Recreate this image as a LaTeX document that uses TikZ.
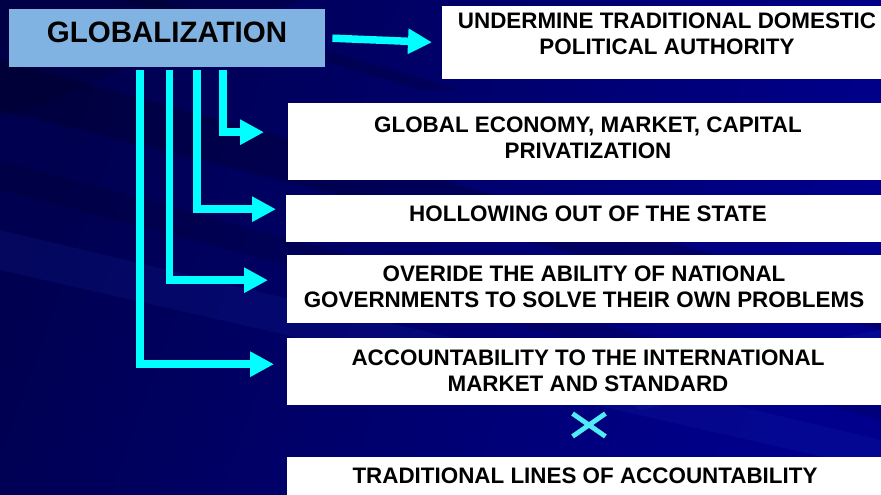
\documentclass[tikz,border=0pt]{standalone}
\usepackage{fontspec}
\setmainfont{Liberation Sans}
\usetikzlibrary{arrows.meta,shapes.misc,calc}
\definecolor{bgnavy}{RGB}{0,0,118}
\definecolor{bgdark}{RGB}{0,0,80}
\definecolor{bglight}{RGB}{0,0,140}
\definecolor{globblue}{RGB}{128,178,226}
\definecolor{arrowcyan}{RGB}{0,255,255}
\definecolor{crosscyan}{RGB}{80,235,245}
\definecolor{streak}{RGB}{40,60,190}
\begin{document}
\begin{tikzpicture}[x=1pt,y=-1pt,
  whitebox/.style={fill=white, draw=none, rectangle, inner sep=0pt, anchor=north west},
  txt/.style={font=\bfseries\fontsize{22.4}{26}\selectfont, align=center, inner sep=0pt, text=black},
  flow/.style={draw=arrowcyan, line width=7.5pt, -{Triangle[length=24pt,width=24pt]}, line join=miter}
]
\useasboundingbox (0,0) rectangle (881,495);
\clip (0,0) rectangle (881,495);
% background
\shade[left color=bgdark, right color=bglight, shading angle=70] (0,0) rectangle (881,495);
\fill[black, opacity=0.18] (0,60) -- (881,300) -- (881,330) -- (0,110) -- cycle;
\fill[black, opacity=0.12] (0,160) -- (881,400) -- (881,420) -- (0,190) -- cycle;
\fill[streak, opacity=0.12] (0,230) -- (881,440) -- (881,470) -- (0,270) -- cycle;
\fill[black, opacity=0.15] (120,0) -- (160,0) -- (460,90) -- (420,90) -- cycle;
\fill[streak, opacity=0.15] (600,380) -- (881,330) -- (881,360) -- (640,410) -- cycle;
\fill[black, opacity=0.12] (0,0) -- (300,0) -- (0,120) -- cycle;

% boxes
\node[whitebox, fill=globblue, minimum width=316pt, minimum height=58pt] (glob) at (9,9) {};
\node[font=\bfseries\fontsize{29.5}{33}\selectfont, inner sep=0pt] (tglob) at (167,32.5) {GLOBALIZATION};

\node[whitebox, minimum width=452pt, minimum height=73pt] (b1) at (442,6) {};
\node[txt] (t1) at (667,34) {UNDERMINE TRADITIONAL DOMESTIC\\POLITICAL AUTHORITY};

\node[whitebox, minimum width=600pt, minimum height=77pt] (b2) at (288,103) {};
\node[txt] (t2) at (588,138) {GLOBAL ECONOMY, MARKET, CAPITAL\\PRIVATIZATION};

\node[whitebox, minimum width=602pt, minimum height=47pt] (b3) at (286,195) {};
\node[txt] (t3) at (588,214) {HOLLOWING OUT OF THE STATE};

\node[whitebox, minimum width=601pt, minimum height=68pt] (b4) at (287,255) {};
\node[txt] (t4) at (584,286.5) {OVERIDE THE ABILITY OF NATIONAL\\GOVERNMENTS TO SOLVE THEIR OWN PROBLEMS};

\node[whitebox, minimum width=601pt, minimum height=67pt] (b5) at (287,338) {};
\node[txt] (t5) at (588,370.5) {ACCOUNTABILITY TO THE INTERNATIONAL\\MARKET AND STANDARD};

\node[whitebox, minimum width=601pt, minimum height=50pt] (b6) at (287,457) {};
\node[txt] (t6) at (585,476) {TRADITIONAL LINES OF ACCOUNTABILITY};

\node[cross out, draw=crosscyan, line width=4.8pt, minimum width=28pt, minimum height=18pt, inner sep=0pt] (cross) at (589,425) {};

% connectors
\coordinate (s0) at ($(glob.east)+(7,0)$);
\draw[flow, shorten >=10pt] (s0) -- (b1.west);

\coordinate (sA) at ($(glob.south west)+(131,3)$);
\coordinate (sB) at ($(glob.south west)+(160.5,3)$);
\coordinate (sC) at ($(glob.south west)+(188,3)$);
\coordinate (sD) at ($(glob.south west)+(214,3)$);

\draw[flow, shorten >=24pt] (sD) |- ($(b2.west)+(0,-9.5)$);
\draw[flow, shorten >=10pt] (sC) |- ($(b3.west)+(0,-9.5)$);
\draw[flow, shorten >=19pt] (sB) |- ($(b4.west)+(0,-9)$);
\draw[flow, shorten >=13pt] (sA) |- ($(b5.west)+(0,-7.5)$);
\end{tikzpicture}
\end{document}
